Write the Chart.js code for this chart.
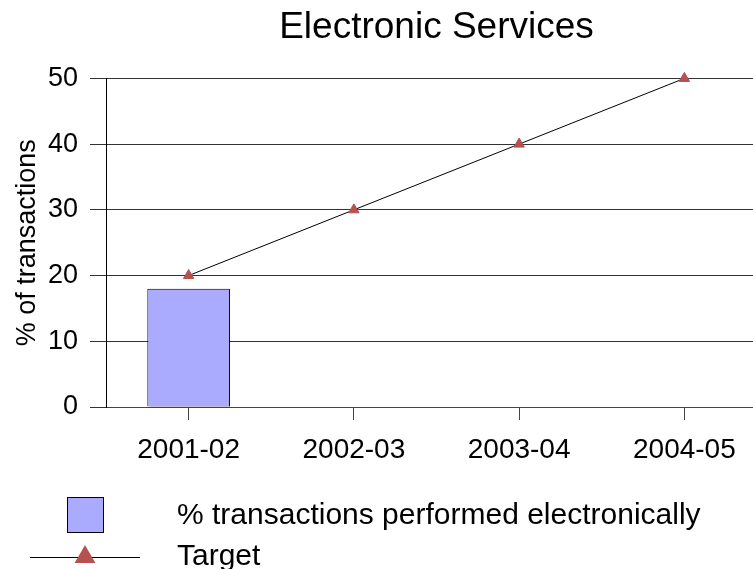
<!DOCTYPE html>
<html>
<head>
<meta charset="utf-8">
<script src="https://cdn.jsdelivr.net/npm/chart.js@4/dist/chart.umd.min.js"></script>
<style>
html,body{margin:0;padding:0;background:#fff;overflow:hidden;}
canvas{display:block;}
</style>
</head>
<body>
<canvas id="c" width="774" height="569"></canvas>
<script>
const categories = ['2001-02', '2002-03', '2003-04', '2004-05'];
const electronicValues = [18, null, null, null];
const targetValues = [20, 30, 40, 50];
const yTicks = [0, 10, 20, 30, 40, 50];
const barLabel = '% transactions performed electronically';
const lineLabel = 'Target';

const FONT = '"Liberation Sans", Arial, sans-serif';
const BAR_COLOR = '#aaaaff';
const TRI_COLOR = '#b5524f';

const barShadow = {
  id: 'barShadow',
  beforeDatasetDraw(chart, args) {
    if (args.meta.type === 'bar') {
      const ctx = chart.ctx;
      ctx.save();
      ctx.shadowColor = 'rgba(0,0,0,0.45)';
      ctx.shadowOffsetX = 2;
      ctx.shadowOffsetY = 1;
      ctx.shadowBlur = 0;
    }
  },
  afterDatasetDraw(chart, args) {
    if (args.meta.type === 'bar') chart.ctx.restore();
  }
};

const customLegend = {
  id: 'customLegend',
  afterDraw(chart) {
    const ctx = chart.ctx;
    const ds = chart.data.datasets;
    const bar = ds.find(d => d.type === 'bar');
    const line = ds.find(d => d.type === 'line');
    ctx.save();
    ctx.fillStyle = bar.backgroundColor;
    ctx.strokeStyle = '#000';
    ctx.lineWidth = 1;
    ctx.fillRect(67.5, 497.5, 36, 35);
    ctx.strokeRect(67.5, 497.5, 36, 35);
    ctx.fillStyle = '#000';
    ctx.font = '30px ' + FONT;
    ctx.textBaseline = 'middle';
    ctx.textAlign = 'left';
    ctx.fillText(bar.label, 177, 516);
    ctx.strokeStyle = line.borderColor;
    ctx.beginPath();
    ctx.moveTo(30, 557.5);
    ctx.lineTo(140, 557.5);
    ctx.stroke();
    ctx.fillStyle = line.pointBackgroundColor;
    Chart.helpers.drawPoint(ctx, {pointStyle: 'triangle', radius: 12, borderWidth: 0}, 85, 557);
    ctx.fillStyle = '#000';
    ctx.fillText(line.label, 177, 557);
    ctx.restore();
  }
};

new Chart(document.getElementById('c'), {
  data: {
    labels: categories,
    datasets: [
      {
        type: 'line',
        label: lineLabel,
        data: targetValues,
        borderColor: '#000',
        borderWidth: 1,
        pointStyle: 'triangle',
        pointRadius: 6,
        pointBackgroundColor: TRI_COLOR,
        pointBorderColor: TRI_COLOR,
        pointBorderWidth: 1,
        tension: 0,
        clip: false,
        order: 0
      },
      {
        type: 'bar',
        label: barLabel,
        data: electronicValues,
        backgroundColor: BAR_COLOR,
        borderColor: '#000',
        borderWidth: 1,
        barPercentage: 0.5,
        categoryPercentage: 1,
        order: 1
      }
    ]
  },
  options: {
    responsive: false,
    animation: false,
    layout: { padding: { left: 0, right: 4, top: 0, bottom: 0 } },
    plugins: {
      legend: { display: false },
      tooltip: { enabled: false },
      title: {
        display: true,
        text: 'Electronic Services',
        fullSize: false,
        color: '#000',
        font: { family: FONT, size: 37, weight: 'normal' },
        padding: { top: 6, bottom: 28 }
      }
    },
    scales: {
      x: {
        offset: true,
        afterFit(s) { s.height = 162; },
        grid: {
          offset: false,
          drawOnChartArea: false,
          drawTicks: true,
          tickLength: 13,
          color: '#444'
        },
        border: { display: true, color: '#444' },
        ticks: {
          color: '#000',
          padding: 13,
          font: { family: FONT, size: 28 }
        }
      },
      y: {
        min: 0,
        max: 50,
        afterFit(s) { s.width = 106; },
        afterBuildTicks(s) { s.ticks = yTicks.map(v => ({ value: v })); },
        grid: {
          color: '#333',
          tickLength: 16,
          drawTicks: true
        },
        border: { display: true, color: '#000' },
        ticks: {
          color: '#000',
          padding: 12,
          font: { family: FONT, size: 27 }
        },
        title: {
          display: true,
          text: '% of transactions',
          color: '#000',
          font: { family: FONT, size: 27 },
          padding: { top: 11, bottom: 0 }
        }
      }
    }
  },
  plugins: [barShadow, customLegend]
});
</script>
</body>
</html>
